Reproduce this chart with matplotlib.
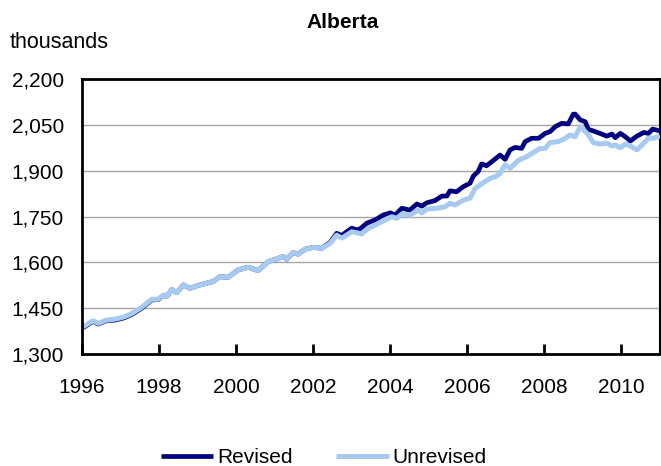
import matplotlib
matplotlib.use("Agg")
import matplotlib.pyplot as plt
from matplotlib.ticker import FuncFormatter

plt.rcParams['font.family'] = ['Liberation Sans', 'DejaVu Sans']

title = "Alberta"
y_unit = "thousands"
series_names = ["Revised", "Unrevised"]
colors = ["#000080", "#a6caf0"]

# time in decimal years, values in thousands
unrev_t = [1996.03, 1996.29, 1996.42, 1996.64, 1996.86, 1997.11, 1997.33, 1997.55,
           1997.81, 1997.98, 1998.11, 1998.20, 1998.33, 1998.46, 1998.63, 1998.80,
           1999.06, 1999.27, 1999.40, 1999.58, 1999.79, 2000.05, 2000.31, 2000.57,
           2000.83, 2001.09, 2001.22, 2001.31, 2001.48, 2001.61, 2001.79, 2002.00,
           2002.22, 2002.44, 2002.61, 2002.74, 2003.00, 2003.13, 2003.26, 2003.39,
           2003.61, 2003.82, 2004.04, 2004.17, 2004.30, 2004.51, 2004.73, 2004.82,
           2004.95, 2005.21, 2005.42, 2005.55, 2005.68, 2005.90, 2006.07, 2006.20,
           2006.41, 2006.59, 2006.72, 2006.85, 2006.98, 2007.11, 2007.32, 2007.54,
           2007.75, 2007.89, 2008.02, 2008.15, 2008.36, 2008.54, 2008.67, 2008.80,
           2008.93, 2009.06, 2009.14, 2009.27, 2009.44, 2009.62, 2009.75, 2009.84,
           2009.97, 2010.10, 2010.23, 2010.40, 2010.58, 2010.70, 2010.83, 2011.00]
unrev_v = [1389, 1409, 1400, 1411, 1414, 1422, 1435, 1453,
           1479, 1479, 1493, 1488, 1512, 1501, 1526, 1515,
           1526, 1533, 1537, 1553, 1551, 1575, 1584, 1573,
           1602, 1613, 1619, 1610, 1632, 1627, 1643, 1649,
           1646, 1662, 1689, 1679, 1700, 1697, 1693, 1708,
           1722, 1736, 1749, 1744, 1758, 1755, 1771, 1762,
           1774, 1777, 1782, 1793, 1788, 1804, 1810, 1842,
           1860, 1875, 1880, 1891, 1919, 1908, 1933, 1946,
           1962, 1973, 1973, 1992, 1995, 2006, 2017, 2011,
           2044, 2028, 2017, 1992, 1987, 1990, 1981, 1984,
           1975, 1987, 1981, 1968, 1990, 2006, 2006, 2013]

rev_t = [1996.03, 1996.29, 1996.42, 1996.64, 1996.86, 1997.11, 1997.33, 1997.55,
         1997.81, 1997.98, 1998.11, 1998.20, 1998.33, 1998.46, 1998.63, 1998.80,
         1999.06, 1999.27, 1999.40, 1999.58, 1999.79, 2000.05, 2000.31, 2000.57,
         2000.83, 2001.09, 2001.22, 2001.31, 2001.48, 2001.61, 2001.79, 2002.00,
         2002.22, 2002.44, 2002.61, 2002.74, 2003.00, 2003.13, 2003.22, 2003.39,
         2003.61, 2003.82, 2004.00, 2004.13, 2004.30, 2004.51, 2004.69, 2004.82,
         2004.95, 2005.16, 2005.34, 2005.47, 2005.55, 2005.72, 2005.90, 2006.07,
         2006.16, 2006.28, 2006.37, 2006.50, 2006.67, 2006.85, 2006.98, 2007.11,
         2007.24, 2007.41, 2007.50, 2007.67, 2007.85, 2008.02, 2008.15, 2008.28,
         2008.45, 2008.62, 2008.75, 2008.80, 2008.93, 2009.06, 2009.14, 2009.27,
         2009.44, 2009.62, 2009.75, 2009.84, 2009.97, 2010.10, 2010.23, 2010.40,
         2010.58, 2010.70, 2010.81, 2011.00]
rev_v = [1386, 1407, 1398, 1409, 1411, 1419, 1432, 1450,
         1477, 1478, 1492, 1488, 1511, 1501, 1526, 1515,
         1526, 1533, 1537, 1553, 1551, 1575, 1584, 1573,
         1602, 1613, 1619, 1610, 1632, 1627, 1643, 1649,
         1646, 1665, 1695, 1688, 1712, 1706, 1710, 1728,
         1739, 1755, 1762, 1755, 1777, 1771, 1791, 1784,
         1795, 1802, 1817, 1817, 1834, 1831, 1848, 1859,
         1883, 1897, 1922, 1916, 1933, 1951, 1937, 1968,
         1976, 1973, 1995, 2006, 2006, 2022, 2028, 2044,
         2055, 2053, 2085, 2085, 2066, 2060, 2035, 2030,
         2022, 2013, 2020, 2008, 2022, 2011, 1997, 2013,
         2025, 2022, 2036, 2030]

x_ticks = [1996, 1998, 2000, 2002, 2004, 2006, 2008, 2010]
y_ticks = [1300, 1450, 1600, 1750, 1900, 2050, 2200]

fig = plt.figure(figsize=(6.61, 4.66), dpi=100)
ax = fig.add_axes([0.124, 0.2403, 0.8745, 0.5902])

ax.plot(rev_t, rev_v, color=colors[0], lw=3.4, label=series_names[0],
        solid_joinstyle='round', solid_capstyle='butt', zorder=3)
ax.plot(unrev_t, unrev_v, color=colors[1], lw=3.6, label=series_names[1],
        solid_joinstyle='round', solid_capstyle='butt', zorder=4)

ax.set_xlim(1996, 2011)
ax.set_ylim(1300, 2200)
ax.set_yticks(y_ticks)
ax.yaxis.set_major_formatter(FuncFormatter(lambda v, p: f"{int(v):,}"))
ax.set_xticks(x_ticks)
ax.set_xticklabels([str(t) for t in x_ticks])

ax.grid(axis='y', color='#a6a6a6', lw=1.0, zorder=0)
ax.set_axisbelow(True)
for s in ['left', 'bottom', 'top']:
    ax.spines[s].set_linewidth(2.0)
    ax.spines[s].set_color('black')
    ax.spines[s].set_zorder(5)
ax.spines['right'].set_linewidth(1.5)
ax.spines['right'].set_color('black')

ax.tick_params(axis='x', direction='in', length=7, width=2, labelsize=15, pad=17)
ax.tick_params(axis='y', length=0, labelsize=15, pad=13)

fig.text(0.519, 0.952, title, ha='center', va='center', fontsize=15, fontweight='bold')
fig.text(0.015, 0.908, y_unit, ha='left', va='center', fontsize=15.5)

leg = fig.legend(loc='center', bbox_to_anchor=(0.49, 0.018), ncol=2, frameon=False,
                 fontsize=15, handlelength=2.5, handletextpad=0.2, columnspacing=2.1,
                 borderaxespad=0)

fig.savefig("out.png", dpi=100)
